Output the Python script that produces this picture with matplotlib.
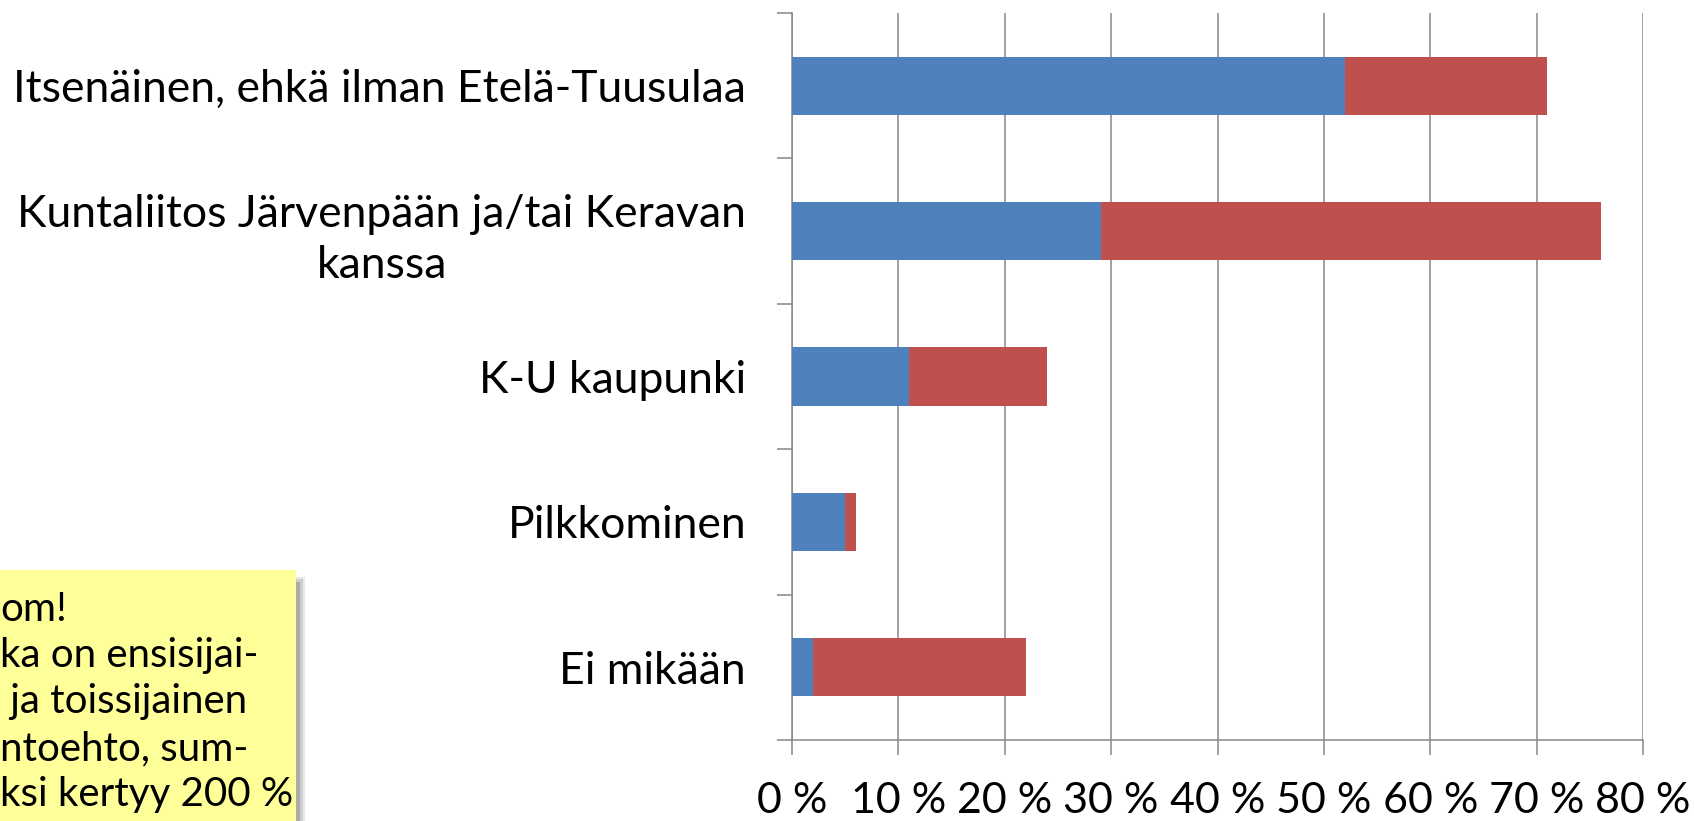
import numpy as np
import matplotlib
matplotlib.use("Agg")
import matplotlib.pyplot as plt
from matplotlib.patches import Rectangle

plt.rcParams['font.family'] = ['Lato', 'DejaVu Sans']

categories = ["Itsenäinen, ehkä ilman Etelä-Tuusulaa",
              "Kuntaliitos Järvenpään ja/tai Keravan\nkanssa",
              "K-U kaupunki",
              "Pilkkominen",
              "Ei mikään"]
ensisijainen = [52, 29, 11, 5, 2]
toissijainen = [19, 47, 13, 1, 20]
xticks = [0, 10, 20, 30, 40, 50, 60, 70, 80]
xticklabels = ["0 %", "10 %", "20 %", "30 %", "40 %", "50 %", "60 %", "70 %", "80 %"]
note_lines = ["om!", "ka on ensisijai-", " ja toissijainen", "ntoehto, sum-", "ksi kertyy 200 %"]

blue = "#4F81BD"
red = "#C0504D"
grey = "#878787"

fig = plt.figure(figsize=(16.94, 8.21), dpi=100)
ax = fig.add_axes([0.4675, 0.0987, 0.5025, 0.8855])

y = np.arange(len(categories))
ax.barh(y, ensisijainen, height=0.4, color=blue, zorder=3)
ax.barh(y, toissijainen, left=ensisijainen, height=0.4, color=red, zorder=3)

ax.set_xlim(0, 80)
ax.set_ylim(len(categories) - 0.5, -0.5)
ax.set_xticks(xticks)
ax.set_xticklabels(xticklabels, fontsize=31)
ax.xaxis.grid(True, color=grey, linewidth=1.1, zorder=0)

ax.set_yticks(np.arange(len(categories) + 1) - 0.5)
ax.set_yticklabels([])
ax.set_yticks(y, minor=True)
ax.set_yticklabels(categories, minor=True, fontsize=32)
for lab in ax.get_yticklabels(minor=True):
    lab.set_multialignment('center')
    lab.set_linespacing(1.3)

ax.tick_params(axis='y', which='major', length=11, color=grey, width=1.1)
ax.tick_params(axis='y', which='minor', length=0, pad=33)
ax.tick_params(axis='x', which='major', length=11, color=grey, width=1.1, pad=19)

for s in ['top', 'right']:
    ax.spines[s].set_visible(False)
for s in ['left', 'bottom']:
    ax.spines[s].set_color(grey)
    ax.spines[s].set_linewidth(1.1)

# note box in the lower left corner, with a soft shadow on the right
box_w, box_h = 0.1847, 0.3157
for i, a in enumerate([0.12, 0.18, 0.28]):
    fig.patches.append(Rectangle((-0.01, -0.01), box_w + 0.0055 - 0.0016 * i, box_h - 0.008 - 0.003 * i,
                                 transform=fig.transFigure, facecolor="#505050", alpha=a,
                                 edgecolor='none', zorder=1))
fig.patches.append(Rectangle((-0.01, -0.01), box_w, box_h, transform=fig.transFigure,
                             facecolor="#FFFF99", edgecolor='none', zorder=2))
baselines = [621, 667, 713, 760, 806]
for line, b in zip(note_lines, baselines):
    fig.text(0.0, 1 - b / 821, line, fontsize=29, ha='left', va='baseline', zorder=5)

fig.savefig("out.png", dpi=100)
